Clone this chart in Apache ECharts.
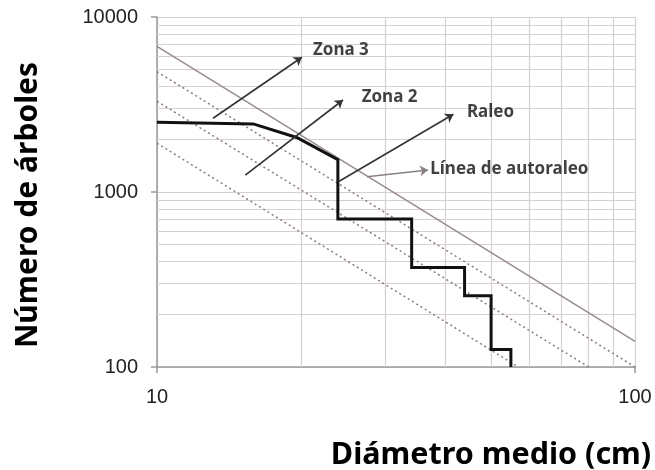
<!DOCTYPE html>
<html>
<head>
<meta charset="utf-8">
<script src="https://cdn.jsdelivr.net/npm/echarts@6/dist/echarts.min.js"></script>
<style>
  html, body { margin: 0; padding: 0; background: #fff; }
  #chart { width: 655px; height: 470px; }
</style>
</head>
<body>
<div id="chart"></div>
<script>
// ejes
const ejeXTicks = [10, 100];
const ejeYTicks = [100, 1000, 10000];
const menoresX = [20, 30, 40, 50, 60, 70, 80, 90];
const menoresY = [200, 300, 400, 500, 600, 700, 800, 900,
                  2000, 3000, 4000, 5000, 6000, 7000, 8000, 9000];

// trayectoria con raleos (línea gruesa)
const raleoD = [10, 15.9, 19.6, 23.9, 23.9, 34.1, 34.1, 44, 44, 50, 50, 55, 55];
const raleoN = [2500, 2450, 2050, 1530, 700, 700, 370, 370, 255, 255, 126, 126, 100];

// línea de autoraleo
const autoraleoD = [10, 100];
const autoraleoN = [6800, 140];

// líneas punteadas (límites de zonas)
const limite1D = [10, 100];
const limite1N = [4870, 100];
const limite2D = [10, 80];
const limite2N = [3300, 100];
const limite3D = [10, 57];
const limite3N = [1900, 100];

// flechas: inicio y punta
const flechaIniD = [13.1, 15.3, 23.95, 27.5];
const flechaIniN = [2640, 1250, 1145, 1223];
const flechaFinD = [20.1, 24.5, 41.7, 36.9];
const flechaFinN = [5890, 3355, 2780, 1336];
const flechaColor = ['#333', '#333', '#333', '#8a8080'];

// textos
const notaTexto = ['Zona 3', 'Zona 2', 'Raleo', 'Línea de autoraleo'];
const notaD = [21.2, 26.8, 44.5, 37.3];
const notaN = [6476, 3505, 2876, 1353];

const pares = (xs, ys) => xs.map((x, i) => [x, ys[i]]);

const gris = '#d8d0d0';
var myChart = echarts.init(document.getElementById('chart'), null, {renderer: 'canvas'});
myChart.setOption({
    animation: false,
    grid: {left: 157, top: 17, width: 478, height: 350, containLabel: false},
    xAxis: {
        type: 'log', logBase: 10, min: ejeXTicks[0], max: ejeXTicks[1],
        axisLine: {lineStyle: {color: '#9a9a9a', width: 1.5}},
        axisTick: {show: true, length: 6, lineStyle: {color: '#9a9a9a', width: 1.5}},
        axisLabel: {margin: 20, fontSize: 20, color: '#222', fontFamily: 'Liberation Sans',
                    formatter: v => String(Math.round(v))},
        splitLine: {show: true, lineStyle: {color: gris, width: 1.2}}
    },
    yAxis: {
        type: 'log', logBase: 10, min: ejeYTicks[0], max: ejeYTicks[2],
        axisLine: {lineStyle: {color: '#9a9a9a', width: 1.5}},
        axisTick: {show: true, length: 6, lineStyle: {color: '#9a9a9a', width: 1.5}},
        axisLabel: {margin: 19, fontSize: 20, color: '#222', fontFamily: 'Liberation Sans',
                    formatter: v => String(Math.round(v))},
        splitLine: {show: true, lineStyle: {color: gris, width: 1.2}}
    },
    graphic: [
        {
            type: 'text', x: 28, y: 205, rotation: Math.PI / 2,
            style: {text: 'Número de árboles', font: 'bold 30px "Noto Sans"', fill: '#000',
                     textAlign: 'center', textVerticalAlign: 'middle'}
        },
        {
            type: 'text', x: 491, y: 455,
            style: {text: 'Diámetro medio (cm)', font: 'bold 30.5px "Noto Sans"', fill: '#000',
                     textAlign: 'center', textVerticalAlign: 'middle'}
        }
    ],
    series: [
        {
            // cuadrícula menor logarítmica
            type: 'line', data: [], silent: true, z: 1,
            markLine: {
                silent: true, symbol: 'none', animation: false, z: 1,
                label: {show: false},
                lineStyle: {color: gris, width: 1.2, type: 'solid'},
                data: menoresX.map(v => ({xAxis: v})).concat(menoresY.map(v => ({yAxis: v})))
            }
        },
        {
            type: 'line', data: pares(limite1D, limite1N), symbol: 'none', z: 2,
            lineStyle: {color: '#8a7c7c', width: 1.5, type: [2, 3]}
        },
        {
            type: 'line', data: pares(limite2D, limite2N), symbol: 'none', z: 2,
            lineStyle: {color: '#8a7c7c', width: 1.5, type: [2, 3]}
        },
        {
            type: 'line', data: pares(limite3D, limite3N), symbol: 'none', z: 2,
            lineStyle: {color: '#8a7c7c', width: 1.5, type: [2, 3]}
        },
        {
            type: 'line', data: pares(autoraleoD, autoraleoN), symbol: 'none', z: 3,
            lineStyle: {color: '#978b8b', width: 1.5}
        },
        {
            type: 'line', data: pares(raleoD, raleoN), symbol: 'none', z: 4,
            lineStyle: {color: '#111', width: 3, join: 'miter'}
        },
        {
            // flechas
            type: 'line', data: [], z: 5,
            markLine: {
                silent: true, z: 6, symbol: ['none', 'arrow'], symbolSize: 8,
                label: {show: false},
                data: flechaIniD.map((d, i) => [
                    {coord: [d, flechaIniN[i]],
                     lineStyle: {color: flechaColor[i], width: 1.6, type: 'solid'},
                     itemStyle: {color: flechaColor[i]}},
                    {coord: [flechaFinD[i], flechaFinN[i]]}
                ])
            }
        },
        {
            type: 'scatter', symbolSize: 0, z: 6, silent: true,
            data: notaD.map((d, i) => [d, notaN[i], notaTexto[i]]),
            label: {
                show: true, position: 'right', distance: 0,
                formatter: p => p.data[2],
                fontFamily: 'Noto Sans', fontWeight: 'bold', fontSize: 17, color: '#111'
            }
        }
    ]
});
</script>
</body>
</html>
